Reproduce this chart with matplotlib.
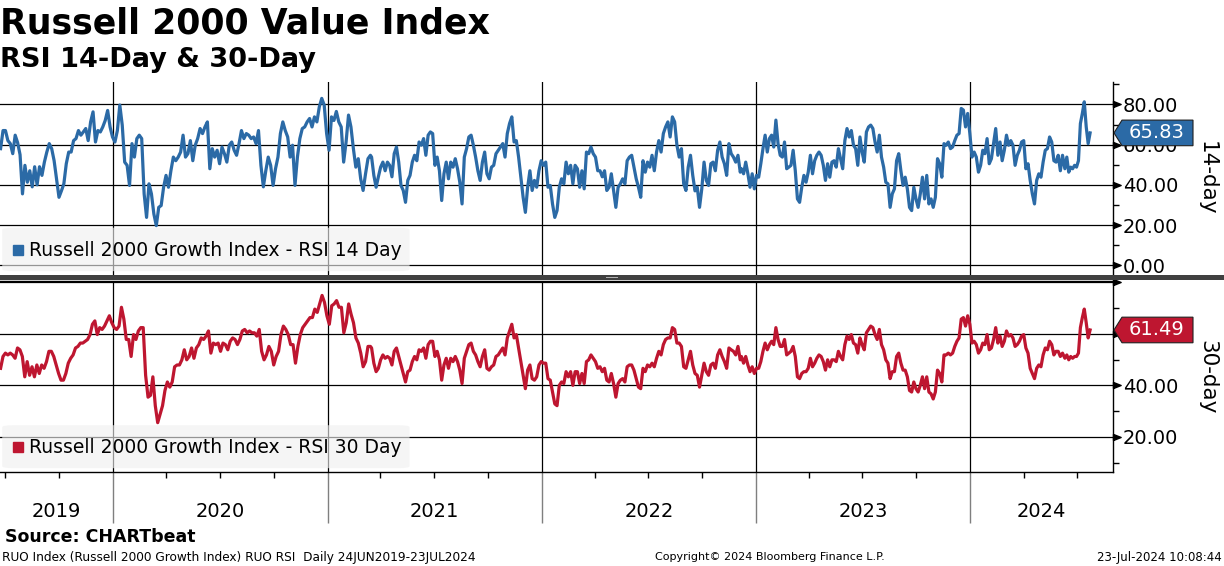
import matplotlib
matplotlib.use('Agg')
import matplotlib.pyplot as plt
import matplotlib.dates as mdates
import matplotlib.transforms as mtrans
from matplotlib.patches import Polygon, FancyBboxPatch, Rectangle
import pandas as pd

# RSI 14 day in segments (evenly spaced inside each segment)
rsi14_a = [58, 67, 67, 62, 60.5, 55.5, 64.7, 61, 55, 35.5,
           49.7, 41.3, 47, 39, 49, 40, 49, 44.7, 51.3, 56.3,
           60.5, 58, 52, 43, 33.8, 37, 40.5, 50.5, 56.3, 56.3,
           62, 63, 67, 64.7, 66.3, 68, 62, 71.3, 76.3, 61.3,
           67, 66.3, 68.8, 72, 77, 68.8, 63.8, 61.3, 67, 79.7,
           69.7, 51.3, 49.7, 39.7, 60.5, 53.8, 63, 64.7, 63, 35.5,
           23.8, 40.5, 35.5, 25.5, 19.7, 28.8, 29.7, 38.8, 44.7, 38.8,
           47, 53.8, 52, 53.8, 56.3, 64.7, 53.8, 55.5, 62, 52,
           59.7, 63, 68, 65.5, 68.8, 71.3, 48, 58, 53.8, 57.2,
           50.5, 58.8, 55.5, 51.3, 59.7, 61.3, 57.2, 54.7, 60.5, 67,
           63, 65.5, 64.7, 63, 63.8, 60.5, 67, 49.7, 39, 47,
           53.8, 49.7, 39.7, 48, 53.8, 65.5, 71.3, 67, 63.8, 53.8,
           59.7, 39.7, 53.8, 63, 68, 68.8, 71.3, 73, 68.8, 73.8,
           71.3, 78.8, 83, 79.7, 65.5, 57.2, 73.8, 72, 76.5, 71.3,
           68.8, 51.3, 61.3, 74.7, 68.8, 58, 48.8, 53, 43, 37.2,
           45.5, 53, 54.7]
rsi14_b = [53.8, 44.7, 38.8, 44, 48.8, 51.3, 47, 51.3, 49.7, 44,
           55.5, 58.8, 51.3, 39.7, 37.2, 31.3, 42.2, 44.7, 51.3, 54.7,
           52, 61.3, 59.7, 63, 54.7, 64.7, 66.3, 65.5, 49.7, 53.8,
           47, 32.2, 45.5, 51.3, 43, 51.3, 48.8, 53, 48, 41.3,
           30.5, 53.8, 58, 63.8, 64.7, 59.7, 53.8, 47, 42.2, 51.3,
           56.3, 45.5, 43, 48.8, 49.7, 55.5, 57.2, 58.8, 60.5, 53.8,
           65.5, 70.5, 73.8, 61.3, 62, 53.8, 44, 33.8, 26.3, 38.8,
           47, 37.2, 42.2, 38.8, 47, 52, 49.7, 51.3, 38.8, 39.7,
           30.5, 23.8, 27.2, 38.8, 43, 40.5, 51.3, 45.5, 49.7, 40.5,
           49.7, 48, 38.8, 47, 38, 56.3, 55.5, 58.8, 55.5, 53.8,
           47, 47, 44, 47, 37.2, 38.8, 45.5, 37.2, 28.8, 38.8,
           40.5, 43, 40.5, 52, 53.8, 54.7, 48.8, 43, 38.8, 33.8,
           52, 46.3, 51.3, 48.8, 54.7, 47, 56.3, 62, 56.3, 65.5,
           68.8, 71.3, 63.8, 73.8, 71.3, 59.7, 53.8, 58, 40.5, 37.2,
           48.8, 54.7, 44.7, 37, 38.8, 28.8, 38, 51.3, 42.2, 39.7,
           50.5, 51.3, 47, 57.2, 61.3, 53.8, 50.5, 44.7, 60.5, 55.5,
           53.8, 51.3, 54.7, 46.3]
rsi14_c1 = [48, 45.5, 51.3, 45.5, 38.8, 45.5, 38, 44.7, 43.8, 50.5,
            58, 64.7, 56.3, 63, 64.7, 58.8, 72.2, 60.5, 54.7, 53.8,
            61.3, 48, 48.8, 49.7, 57.2, 47, 33, 31.3, 38.8, 44.7,
            41.3, 46.3, 54.7, 45.5, 52, 54.7, 56.3, 54.7, 49.7, 42.2,
            50.5, 43.8, 51.3, 52, 48.8, 58, 53, 48, 62, 68,
            63.8, 67, 59.7, 58, 49.7, 63.8, 56.3, 51.3, 66.3, 68.8,
            69.7, 68, 61.3, 56.3, 64.7, 53.8, 48.8, 41.3, 40.5, 28.8,
            35.5, 38, 52, 55.5, 47, 39.7, 43.8, 38, 28.8, 27.2,
            38.8, 33, 28.8, 35.5, 43.8, 33, 44.7, 30.5, 33, 28.8,
            33.8, 53, 50.5, 43.8, 60.5, 59.7, 61.3, 58, 58.8, 62,
            64.7, 65.5, 78, 77.2, 68.8, 75.5, 65.5, 53.8, 56.3, 53.8,
            46.3, 49.7, 57.2, 55.5, 63, 50.5, 53, 60.5, 68, 54.7,
            61.3, 52, 57.2, 64.7, 59.7, 62, 59.7, 49.7, 54.7, 57.2,
            61.3, 62, 48, 50.5, 42.2, 35.5, 30.5, 42.2, 45.5, 43.8,
            51.3, 57.2, 58, 63.8, 61.3, 52, 51.3, 54.7, 47, 54.7]
rsi14_c2 = [48, 53.8, 46.3, 48.8, 48, 49.7, 48.8, 52, 70.5, 75.5, 81.3, 68.8, 60.5, 65.83]

# RSI 30 day
rsi30_a = [46.6, 51.2, 52.5, 51.8, 52.5, 51.8, 50.5, 54.5, 53.8, 51.2,
           43.3, 49.2, 43.9, 47.2, 43.3, 47.9, 44.6, 47.9, 46.6, 49.2,
           53.2, 53.2, 51.2, 47.9, 44.6, 42, 42, 44.6, 48.6, 50.5,
           51.8, 54.5, 55.1, 56.4, 56.4, 57.1, 57.8, 59.7, 63.7, 65,
           59.7, 62.4, 61.7, 63, 65, 67, 64.3, 62.4, 61.7, 63,
           70.3, 65.7, 57.8, 57.8, 51.2, 59.7, 57.8, 61.1, 62.4, 62.4,
           43.9, 35.4, 36.1, 43.3, 32.1, 25.5, 28.8, 32.1, 38, 41.3,
           39.3, 41.3, 47.2, 47.9, 47.9, 49.9, 53.8, 49.9, 51.2, 54.5,
           50.5, 54.5, 55.8, 58.4, 57.8, 59.1, 61.1, 52.5, 56.4, 55.8,
           56.4, 53.2, 56.4, 55.8, 53.8, 57.1, 58.4, 57.8, 55.8, 57.8,
           61.1, 61.7, 60.4, 61.1, 60.4, 60.4, 59.1, 61.7, 53.2, 49.9,
           51.8, 55.1, 53.2, 47.9, 51.2, 53.2, 59.7, 63, 61.7, 59.7,
           55.8, 55.8, 48.6, 55.1, 59.7, 62.4, 63.7, 65, 66.3, 66.3,
           69.6, 68.3, 71.6, 74.9, 72.2, 67, 63.7, 70.9, 71.6, 72.9,
           70.3, 70.3, 60.4, 64.3, 71.6, 67.6, 64.3, 58.4, 56.4, 52.5,
           47.2, 49.2, 55.1, 55.1]
rsi30_b = [54.5, 48.6, 45.3, 46.6, 49.9, 51.8, 50.5, 51.2, 50.5, 47.9,
           53.2, 54.5, 51.2, 47.9, 44.6, 41.3, 45.3, 45.9, 49.2, 51.2,
           49.9, 53.8, 53.2, 54.5, 50.5, 55.8, 57.1, 57.1, 51.2, 53.2,
           49.9, 42, 47.9, 50.5, 46.6, 50.5, 49.2, 51.2, 49.2, 45.9,
           40.7, 50.5, 53.2, 55.8, 56.4, 53.2, 51.8, 49.2, 47.2, 51.2,
           53.8, 46.6, 45.9, 47.2, 47.9, 51.2, 51.8, 53.2, 54.5, 51.8,
           58.4, 61.1, 63.7, 58.4, 59.7, 54.5, 49.2, 43.9, 38.7, 45.9,
           47.9, 42.6, 42, 43.3, 47.9, 49.2, 48.6, 48.6, 42.6, 42,
           37.4, 32.8, 32.1, 40, 41.3, 40.7, 45.3, 43.3, 45.3, 40,
           45.3, 45.3, 40.7, 44.6, 40.7, 49.2, 49.9, 51.8, 50.5, 49.2,
           46.6, 47.2, 45.3, 46.6, 42, 41.3, 44.6, 40.7, 35.4, 40.7,
           42, 42.6, 41.3, 47.2, 47.9, 47.9, 45.9, 42.6, 39.3, 38.7,
           46.6, 45.3, 47.9, 47.2, 48.6, 47.2, 50.5, 53.2, 51.8, 55.8,
           57.8, 58.4, 58.4, 62.4, 61.7, 56.4, 56.4, 55.1, 47.2, 46.6,
           49.9, 53.2, 47.9, 44.6, 43.9, 39.3, 43.9, 48.6, 45.3, 43.9,
           47.9, 48.6, 46.6, 51.8, 53.8, 51.2, 49.2, 46.6, 54.5, 53.8,
           53.2, 51.8, 55.1, 49.9]
rsi30_c1 = [51.2, 48.6, 51.2, 47.9, 45.3, 47.2, 44.6, 46.6, 46.6, 49.2,
            53.2, 56.4, 53.8, 55.8, 57.1, 55.8, 62.4, 57.8, 55.1, 55.1,
            57.8, 51.8, 52.5, 53.2, 55.1, 51.2, 43.3, 42.6, 44.6, 45.3,
            45.3, 46.6, 50.5, 47.2, 48.6, 50.5, 51.8, 51.2, 49.2, 45.9,
            49.9, 47.2, 49.9, 49.9, 49.2, 53.2, 51.2, 49.9, 55.8, 59.1,
            57.8, 59.7, 56.4, 55.8, 52.5, 58.4, 55.8, 53.8, 60.4, 61.7,
            63, 62.4, 59.7, 57.8, 61.7, 55.8, 53.8, 49.9, 48.6, 42.6,
            45.3, 45.3, 51.2, 52.5, 48.6, 45.9, 45.9, 43.3, 38, 37.4,
            41.3, 38.7, 37.4, 40, 43.3, 38.7, 43.3, 37.4, 36.7, 34.7,
            37.4, 45.9, 44.6, 41.3, 51.8, 51.8, 52.5, 51.8, 52.5, 55.1,
            57.1, 58.4, 65.7, 66.3, 63, 67, 63.7, 56.4, 57.1, 55.8,
            52.5, 53.8, 56.4, 55.8, 59.7, 53.8, 54.5, 57.8, 62.4, 56.4,
            59.1, 55.1, 57.1, 61.1, 59.1, 59.7, 58.4, 55.1, 55.8, 57.1,
            59.1, 59.7, 54.5, 52.5, 46.6, 44.6, 42.6, 46.6, 47.9, 47.2,
            51.8, 54.5, 53.8, 57.1, 55.8, 51.8, 53.2, 53.2, 51.2, 52.5]
rsi30_c2 = [50.5, 51.8, 49.9, 51.2, 50.5, 51.2, 51.2, 52.5, 62.4, 66.3, 69.6, 64.3, 58.4, 61.49]

# date span of each segment
seg_dates = [("2019-06-24", "2021-03-15"), ("2021-03-17", "2022-12-05"),
             ("2022-12-07", "2024-06-06"), ("2024-06-10", "2024-07-23")]

years = [2019, 2020, 2021, 2022, 2023, 2024]
x_start, x_end = "2019-06-23", "2024-08-31"

label14 = "Russell 2000 Growth Index - RSI 14 Day"
label30 = "Russell 2000 Growth Index - RSI 30 Day"
blue = "#2b6aa6"
red = "#be1630"


def build(parts):
    dates = []
    vals = []
    for (s, e), p in zip(seg_dates, parts):
        dates.extend(pd.date_range(s, e, periods=len(p)))
        vals.extend(p)
    return pd.Series(vals, index=pd.DatetimeIndex(dates))


s14 = build([rsi14_a, rsi14_b, rsi14_c1, rsi14_c2])
s30 = build([rsi30_a, rsi30_b, rsi30_c1, rsi30_c2])

W, H = 1224, 566
fig = plt.figure(figsize=(W / 100, H / 100), dpi=100)


def rect(x0, y0, x1, y1):
    return [x0 / W, 1 - y1 / H, (x1 - x0) / W, (y1 - y0) / H]


ax1 = fig.add_axes(rect(0, 82, 1113, 275))
ax2 = fig.add_axes(rect(0, 281, 1113, 472))

tri = [(0, -0.4), (0, 0.4), (1, 0), (0, -0.4)]
jan1 = [pd.Timestamp(f"{y}-01-01") for y in years[1:]]

# (axes, series, colour, y range, major ticks, ticks without label, legend text)
panels = [(ax1, s14, blue, (-4.85, 91.15), [0, 20, 40, 60, 80], [], label14),
          (ax2, s30, red, (6.35, 80.5), [20, 40, 60, 80], [60, 80], label30)]

for ax, s, col, ylim, yt, nolab, lab in panels:
    ax.plot(s.index, s.values, color=col, lw=2.3, zorder=3, solid_joinstyle='round')
    ax.set_xlim(pd.Timestamp(x_start), pd.Timestamp(x_end))
    ax.set_ylim(*ylim)
    ax.yaxis.tick_right()
    ax.set_yticks(yt)
    ax.set_yticks([v for v in range(10, 100, 20) if ylim[0] < v < ylim[1]], minor=True)
    ax.set_yticklabels(["" if v in nolab else f"{v:.2f}" for v in yt])
    ax.tick_params(axis='y', which='major', length=0, pad=7, labelsize=14)
    ax.tick_params(axis='y', which='minor', length=4, width=1, direction='out')
    ax.grid(True, axis='y', color='black', lw=0.9, zorder=1)
    for d in jan1:
        ax.axvline(d, color='black', lw=0.9, zorder=1)
    trans = mtrans.blended_transform_factory(ax.transAxes, ax.transData)
    ax.plot([1] * len(yt), yt, ls='none', marker=tri, ms=11, color='black',
            transform=trans, clip_on=False, zorder=5)
    ax.spines['left'].set_visible(False)
    ax.spines['right'].set_linewidth(1)
    # legend box
    box = FancyBboxPatch((0.002, 0.02), 0.366, 0.225, boxstyle="round,pad=0,rounding_size=0.01",
                         transform=ax.transAxes, facecolor='#f0f0f0', edgecolor='none',
                         alpha=0.62, zorder=2)
    ax.add_patch(box)
    ax.plot([0.0165], [0.13], marker='s', ms=7.5, color=col, transform=ax.transAxes,
            ls='none', zorder=4)
    ax.text(0.026, 0.128, lab, transform=ax.transAxes, fontsize=13.5, va='center',
            ha='left', zorder=4)

ax1.spines['top'].set_visible(False)
ax1.spines['bottom'].set_visible(False)
ax1.set_xticks([])
ax2.spines['top'].set_linewidth(1)
ax2.spines['bottom'].set_linewidth(1)

# x axis: quarterly minor ticks, year labels centred in each year span
ax2.xaxis.set_major_locator(mdates.YearLocator())
ax2.xaxis.set_minor_locator(mdates.MonthLocator(bymonth=[4, 7, 10]))
ax2.xaxis.set_major_formatter(plt.NullFormatter())
ax2.tick_params(axis='x', which='major', length=0)
ax2.tick_params(axis='x', which='minor', length=4, width=1, direction='out')
xl0, xl1 = ax2.get_xlim()
xtrans = mtrans.blended_transform_factory(ax2.transData, ax2.transAxes)
for y in years:
    a = max(mdates.date2num(pd.Timestamp(f"{y}-01-01")), xl0)
    b = min(mdates.date2num(pd.Timestamp(f"{y + 1}-01-01")), xl1)
    ax2.text((a + b) / 2, -0.205, str(y), transform=xtrans, ha='center', va='center', fontsize=14)
ax2.vlines(jan1, -0.267, 0, transform=xtrans, color='#7f7f7f', lw=1, clip_on=False)

# separator between panels
fig.add_artist(Rectangle((0, 1 - 279.5 / H), 1, 4.5 / H, transform=fig.transFigure,
                         facecolor='#404040', edgecolor='none'))
fig.add_artist(Rectangle((606 / W, 1 - 278 / H), 12 / W, 1.2 / H, transform=fig.transFigure,
                         facecolor='#b0b0b0', edgecolor='none'))


def value_tag(ax, value, color):
    xr = ax.transAxes.transform((1, 0))[0]
    yv = ax.transData.transform((ax.get_xlim()[0], value))[1]
    hh, tip, w = 12.8, 9, 80
    verts = [(xr + 1, yv), (xr + tip, yv + hh), (xr + w, yv + hh), (xr + w, yv - hh), (xr + tip, yv - hh)]
    fig.add_artist(Polygon(verts, closed=True, transform=mtrans.IdentityTransform(),
                           facecolor=color, edgecolor='#202020', lw=0.8, zorder=10))
    fig.text(xr + tip + (w - tip) / 2 - 1, yv, f"{value:.2f}", transform=mtrans.IdentityTransform(),
             color='white', fontsize=14, ha='center', va='center', zorder=11)


value_tag(ax1, rsi14_c2[-1], blue)
value_tag(ax2, rsi30_c2[-1], red)

fig.text(1207 / W, 1 - 178 / H, "14-day", rotation=270, ha='center', va='center', fontsize=15.5)
fig.text(1207 / W, 1 - 377 / H, "30-day", rotation=270, ha='center', va='center', fontsize=15.5)

fig.text(0.0, 1 - 23 / H, "Russell 2000 Value Index", fontsize=25, fontweight='bold', va='center', ha='left')
fig.text(0.0, 1 - 60 / H, "RSI 14-Day & 30-Day", fontsize=19.5, fontweight='bold', va='center', ha='left')
fig.text(5 / W, 1 - 537 / H, "Source: CHARTbeat", fontsize=12.5, fontweight='bold', va='center', ha='left')
fig.text(2 / W, 1 - 557 / H, "RUO Index (Russell 2000 Growth Index) RUO RSI  Daily 24JUN2019-23JUL2024",
         fontsize=8.7, va='center', ha='left')
fig.text(655 / W, 1 - 557 / H, "Copyright\u00a9 2024 Bloomberg Finance L.P.", fontsize=8, va='center', ha='left')
fig.text(1222 / W, 1 - 557 / H, "23-Jul-2024 10:08:44", fontsize=8.5, va='center', ha='right')

fig.savefig("out.png", dpi=100)
